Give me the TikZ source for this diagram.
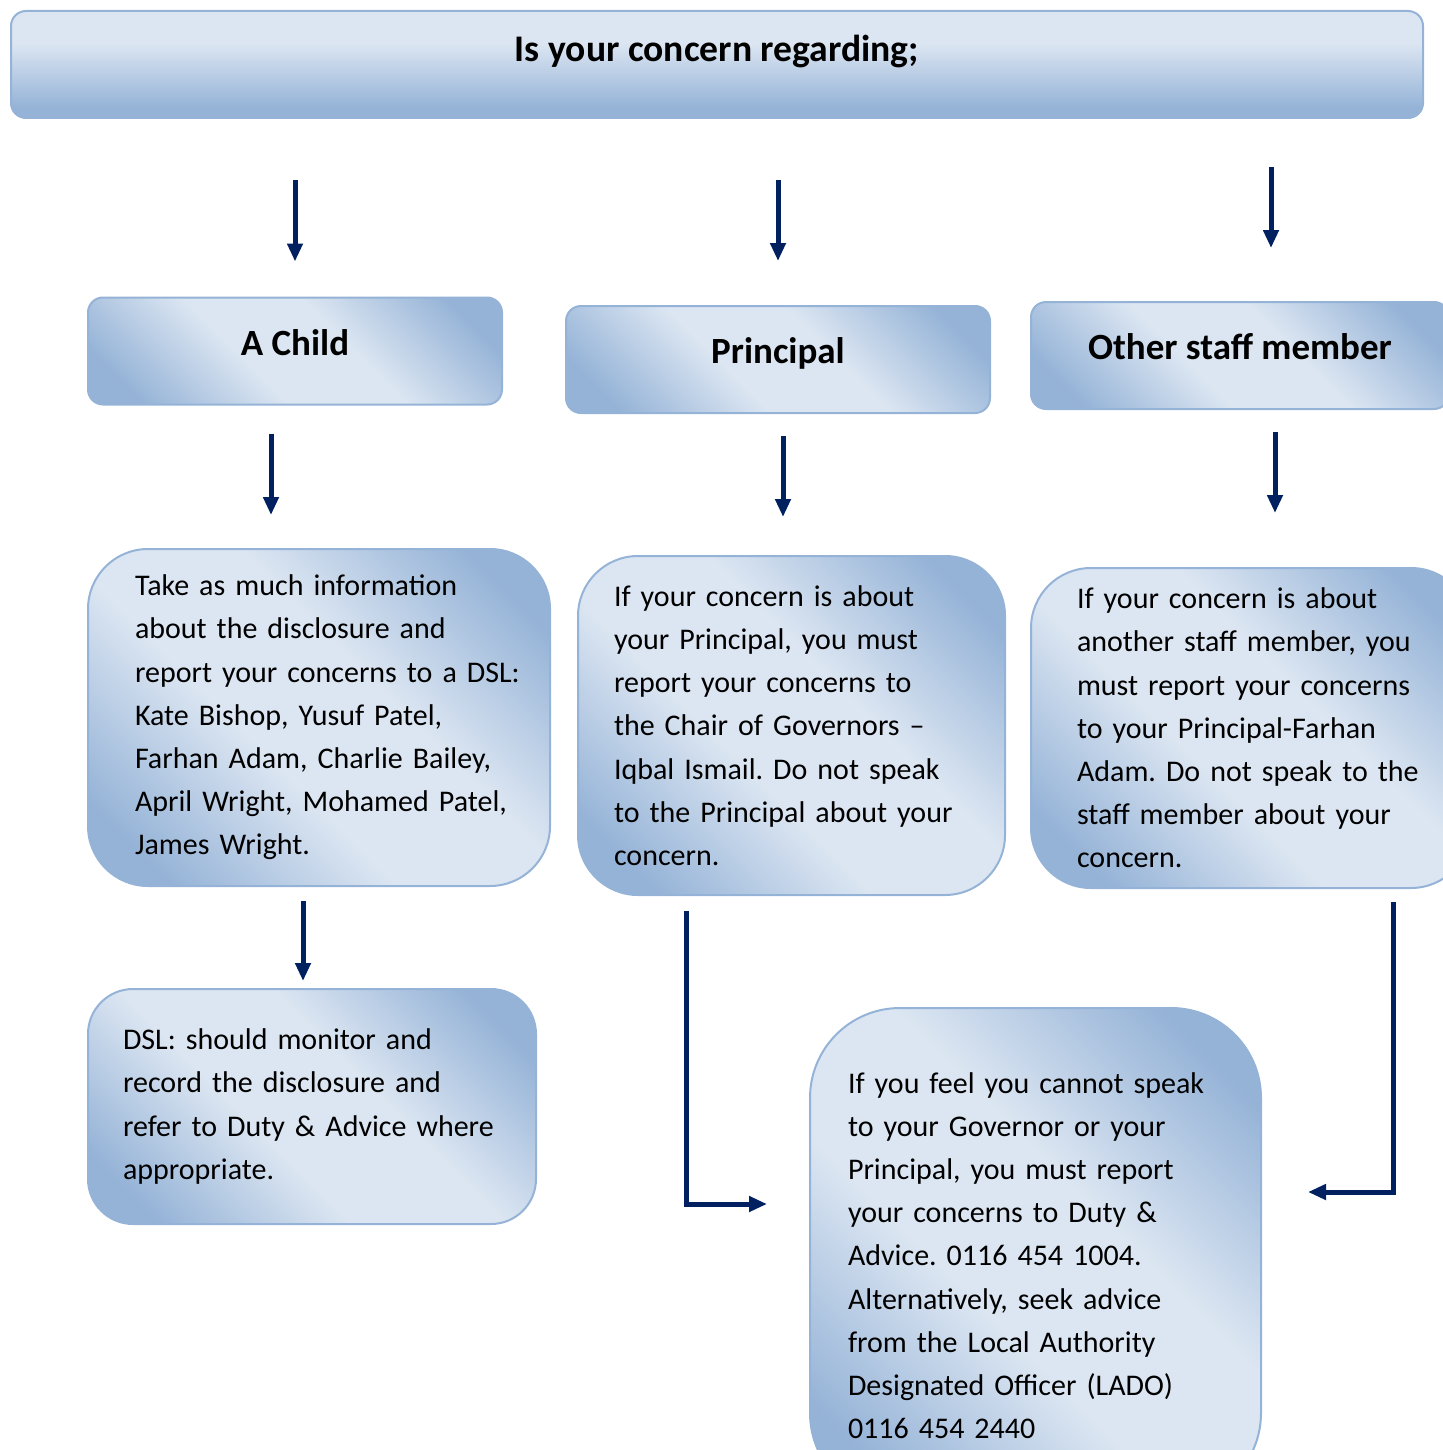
\documentclass[tikz,border=0pt]{standalone}
\usepackage{fontspec}
\setmainfont{Carlito}
\usetikzlibrary{calc}
\usetikzlibrary{arrows.meta}
\frenchspacing

\definecolor{boxlight}{RGB}{220,230,242}
\definecolor{boxdark}{RGB}{149,179,215}
\definecolor{boxline}{RGB}{149,179,215}
\definecolor{arrownavy}{RGB}{0,32,96}

\pgfdeclarehorizontalshading{boxfill}{100bp}{color(0bp)=(boxdark); color(22bp)=(boxdark); color(42bp)=(boxlight); color(58bp)=(boxlight); color(78bp)=(boxdark); color(100bp)=(boxdark)}
\pgfdeclareverticalshading{titlefill}{100bp}{color(0bp)=(boxdark); color(30bp)=(boxdark); color(60bp)=(boxlight); color(100bp)=(boxlight)}

\begin{document}
\begin{tikzpicture}[x=0.5pt, y=-0.5pt]
    \tikzstyle{titlebox}=[draw=boxline, line width=1pt, rounded corners=7.5pt, shade, shading=titlefill,
      font=\bfseries\fontsize{18.8}{22}\selectfont, text height=12pt, text depth=15pt]
    \tikzstyle{headbox}=[draw=boxline, line width=1pt, rounded corners=7.5pt, shade, shading=boxfill, shading angle=45,
      font=\bfseries\fontsize{18.5}{22}\selectfont, text height=14pt, text depth=10pt, minimum height=53.5pt]
    \tikzstyle{infobox}=[draw=boxline, line width=1pt, rounded corners=30pt, shade, shading=boxfill, shading angle=45,
      align=left, font=\fontsize{15}{21.6}\selectfont]
    \tikzstyle{flow}=[-{Triangle[width=7.5pt,length=9pt]}, line width=2.5pt, draw=arrownavy]
    \useasboundingbox (0,0) rectangle (1443,1450);

    % question and the three cases
    \node[titlebox, minimum width=706pt, minimum height=53.5pt] (top) at (717,64.5) {Is your concern regarding;};
    \node[headbox, minimum width=207pt] (child)     at (295,351)    {A Child};
    \node[headbox, minimum width=212pt] (principal) at (778,359.5)  {Principal};
    \node[headbox, minimum width=209pt] (other)     at (1240,355.5) {Other staff member};

    % what to do
    \node[infobox, minimum width=231pt, minimum height=168.5pt, inner xsep=8pt, text width=215pt,
      execute at begin node={\leftskip=15.5pt}]
      (childtxt) at (319,717.5) {Take as much information\\ about the disclosure and\\ report your concerns to a DSL:\\
      Kate Bishop, Yusuf Patel,\\ Farhan Adam, Charlie Bailey,\\ April Wright, Mohamed Patel,\\ James Wright.};
    \node[infobox, minimum width=213.5pt, minimum height=169.5pt, inner xsep=18pt, text width=177.5pt]
      (printxt) at (791.5,725.5) {If your concern is about\\ your Principal, you must\\ report your concerns to\\
      the Chair of Governors --\\ Iqbal Ismail. Do not speak\\ to the Principal about your\\ concern.};
    \node[infobox, minimum width=220pt, minimum height=160pt, inner xsep=23pt, text width=174pt]
      (othtxt) at (1251,728) {If your concern is about\\ another staff member, you\\ must report your concerns\\
      to your Principal-Farhan\\ Adam. Do not speak to the\\ staff member about your\\ concern.};
    \node[infobox, rounded corners=22.5pt, minimum width=224pt, minimum height=117.5pt, inner xsep=17.5pt, text width=189pt]
      (dsl) at (312,1106.5) {DSL: should monitor and\\ record the disclosure and\\ refer to Duty \& Advice where\\ appropriate.};
    \node[infobox, rounded corners=45pt, minimum width=225.5pt, minimum height=247.5pt, inner xsep=19pt, text width=187.5pt]
      (advice) at (1035.5,1255.5) {If you feel you cannot speak\\ to your Governor or your\\ Principal, you must report\\
      your concerns to Duty \&\\ Advice. 0116 454 1004.\\ Alternatively, seek advice\\ from the Local Authority\\
      Designated Officer (LADO)\\ 0116 454 2440};

    % arrows
    \draw[flow, shorten <=30.5pt, shorten >=17.5pt] (top.south -| child.north) -- (child.north);
    \draw[flow, shorten <=30.5pt, shorten >=22pt] (top.south -| principal.north) -- (principal.north);
    \draw[flow, shorten <=24pt, shorten >=26.5pt] ([xshift=15.5pt]other.north |- top.south) -- ([xshift=15.5pt]other.north);
    \draw[flow, shorten <=14pt, shorten >=16.5pt] ([xshift=-12pt]child.south) -- ([xshift=-12pt]child.south |- childtxt.north);
    \draw[flow, shorten <=11pt, shorten >=19pt] ([xshift=2.5pt]principal.south) -- ([xshift=2.5pt]principal.south |- printxt.north);
    \draw[flow, shorten <=11pt, shorten >=27pt] ([xshift=17.5pt]other.south) -- ([xshift=17.5pt]other.south |- othtxt.north);
    \draw[flow, shorten <=7pt, shorten >=3.5pt] ([xshift=-8pt]childtxt.south) -- ([xshift=-8pt]childtxt.south |- dsl.north);
    \draw[flow, shorten <=7.5pt, shorten >=21pt] ([xshift=-52.75pt]printxt.south) |- ([yshift=25.75pt]advice.west);
    \draw[flow, shorten <=6.5pt, shorten >=23pt] ([xshift=71pt]othtxt.south) |- ([yshift=31.75pt]advice.east);
\end{tikzpicture}
\end{document}
